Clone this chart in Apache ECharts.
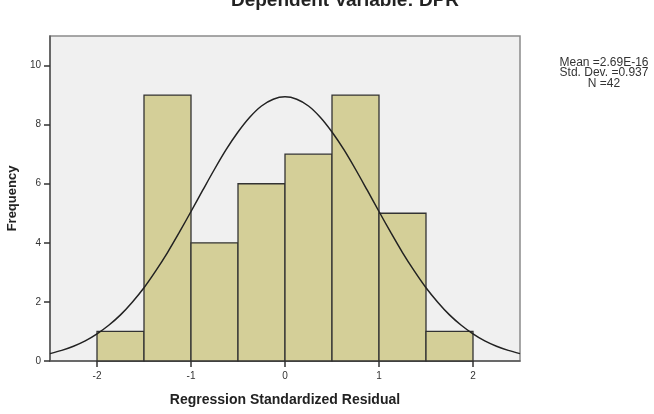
<!DOCTYPE html>
<html>
<head>
<meta charset="utf-8">
<script src="https://cdn.jsdelivr.net/npm/echarts@6/dist/echarts.min.js"></script>
<style>html,body{margin:0;padding:0;background:#fff}#c{width:654px;height:414px}</style>
</head>
<body>
<div id="c"></div>
<script>
// Histogram bins (lower edge, upper edge) and frequencies
var binStarts = [-2, -1.5, -1, -0.5, 0, 0.5, 1, 1.5];
var binEnds   = [-1.5, -1, -0.5, 0, 0.5, 1, 1.5, 2];
var frequencies = [1, 9, 4, 6, 7, 9, 5, 1];
// Normal curve points
var curveX = [-2.5, -2.375, -2.25, -2.125, -2, -1.875, -1.75, -1.625, -1.5, -1.375, -1.25, -1.125, -1, -0.875, -0.75, -0.625, -0.5, -0.375, -0.25, -0.125, 0,
              0.125, 0.25, 0.375, 0.5, 0.625, 0.75, 0.875, 1, 1.125, 1.25, 1.375, 1.5, 1.625, 1.75, 1.875, 2, 2.125, 2.25, 2.375, 2.5];
var curveY = [0.25, 0.36, 0.5, 0.68, 0.92, 1.21, 1.56, 1.99, 2.48, 3.05, 3.67, 4.35, 5.06, 5.78, 6.49, 7.16, 7.75, 8.25, 8.63, 8.86, 8.94,
              8.86, 8.63, 8.25, 7.75, 7.16, 6.49, 5.78, 5.06, 4.35, 3.67, 3.05, 2.48, 1.99, 1.56, 1.21, 0.92, 0.68, 0.5, 0.36, 0.25];
var xTicks = [-2, -1, 0, 1, 2];
var yTicks = [0, 2, 4, 6, 8, 10];
var statLines = ['Mean =2.69E-16', 'Std. Dev. =0.937', 'N =42'];

var barData = binStarts.map(function (s, i) { return [s, binEnds[i], frequencies[i]]; });
var lineData = curveX.map(function (x, i) { return [x, curveY[i]]; });

var chart = echarts.init(document.getElementById('c'), null, {renderer: 'canvas'});
chart.setOption({
  animation: false,
  backgroundColor: '#ffffff',
  title: {
    text: 'Dependent Variable: DPR',
    left: 340, top: -14, textAlign: 'center',
    textStyle: {fontFamily: 'Liberation Sans, Arial', fontSize: 19, fontWeight: 'bold', color: '#222'}
  },
  graphic: [{
    type: 'text', x: 604, y: 57,
    style: {
      text: statLines.join('\n'), fontFamily: 'Liberation Sans, Arial', fontSize: 12,
      lineHeight: 10.5, fill: '#333', align: 'center', verticalAlign: 'top'
    }
  }],
  grid: {left: 50, right: 134, top: 36, bottom: 53, outerBoundsMode: 'none', containLabel: false,
         show: true, backgroundColor: '#f0f0f0', borderColor: '#8a8a8a', borderWidth: 1.5},
  xAxis: {
    type: 'value', min: -2.5, max: 2.5,
    name: 'Regression Standardized Residual', nameLocation: 'middle', nameGap: 32,
    nameTextStyle: {fontFamily: 'Liberation Sans, Arial', fontSize: 14, fontWeight: 'bold', color: '#222'},
    axisLine: {show: true, onZero: false, lineStyle: {color: '#555', width: 1.5}},
    axisTick: {show: true, length: 6, lineStyle: {color: '#333', width: 1.5}, customValues: xTicks},
    axisLabel: {color: '#333', fontSize: 10, fontFamily: 'Liberation Sans, Arial', margin: 10, customValues: xTicks},
    splitLine: {show: false}
  },
  yAxis: {
    type: 'value', min: 0, max: 11,
    name: 'Frequency', nameLocation: 'middle', nameGap: 28, nameRotate: 90,
    nameTextStyle: {fontFamily: 'Liberation Sans, Arial', fontSize: 13, fontWeight: 'bold', color: '#222'},
    axisLine: {show: true, onZero: false, lineStyle: {color: '#555', width: 1.5}},
    axisTick: {show: true, inside: false, length: 6, lineStyle: {color: '#333', width: 1.5}, customValues: yTicks},
    axisLabel: {color: '#333', fontSize: 10, fontFamily: 'Liberation Sans, Arial', margin: 9, customValues: yTicks},
    splitLine: {show: false}
  },
  series: [{
    type: 'custom',
    data: barData,
    encode: {x: [0, 1], y: 2},
    renderItem: function (params, api) {
      var p0 = api.coord([api.value(0), api.value(2)]);
      var p1 = api.coord([api.value(1), 0]);
      return {
        type: 'rect',
        shape: {x: p0[0], y: p0[1], width: p1[0] - p0[0], height: p1[1] - p0[1]},
        style: {fill: '#d4cf98', stroke: '#333', lineWidth: 1.3}
      };
    },
    z: 2
  }, {
    type: 'line', data: lineData, smooth: 0.3, showSymbol: false,
    lineStyle: {color: '#222', width: 1.5}, z: 3
  }]
});
</script>
</body>
</html>
